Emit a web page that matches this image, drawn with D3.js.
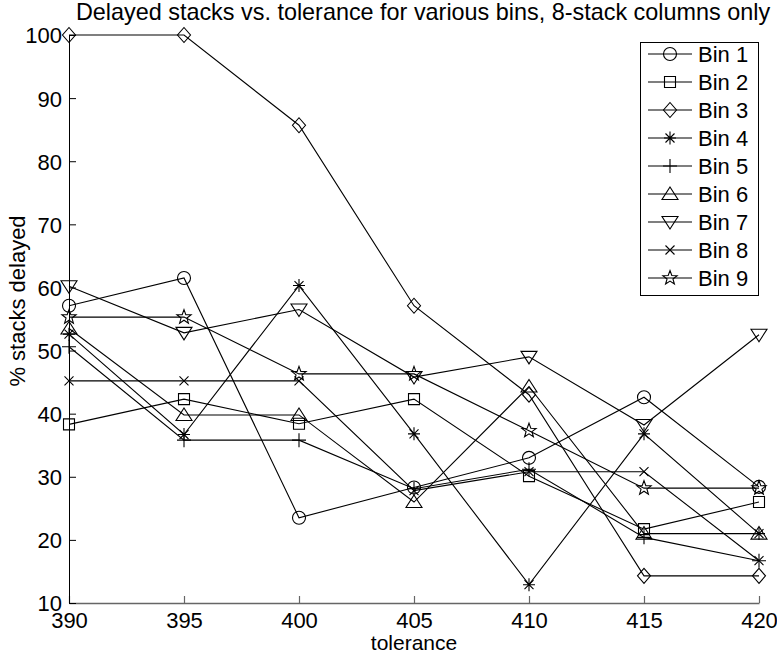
<!DOCTYPE html>
<html>
<head>
<meta charset="utf-8">
<script src="https://cdn.jsdelivr.net/npm/d3@7"></script>
<style>
  body { margin: 0; background: #fff; }
  svg { display: block; font-family: "Liberation Sans", Arial, Helvetica, sans-serif; }
  .tick text { font-size: 22px; fill: #000; }
</style>
</head>
<body>
<div class="chart"></div>
<script>
// Delayed stacks vs tolerance, one line per bin

var tolerance = [390, 395, 400, 405, 410, 415, 420];
var binNames = ["Bin 1", "Bin 2", "Bin 3", "Bin 4", "Bin 5", "Bin 6", "Bin 7", "Bin 8", "Bin 9"];

var bin1 = [57.1, 61.5, 23.5, 28.3, 33.0, 42.6, 28.4];
var bin2 = [38.3, 42.3, 38.4, 42.3, 30.1, 21.7, 26.0];
var bin3 = [100, 100, 85.7, 57.1, 43.0, 14.3, 14.3];
var bin4 = [52.6, 36.7, 60.3, 36.8, 12.9, 36.8, 21.0];
var bin5 = [50.6, 35.8, 35.8, 28.1, 31.2, 20.4, 16.7];
var bin6 = [53.5, 39.8, 39.8, 26.0, 44.3, 21.0, 21.0];
var bin7 = [60.2, 52.8, 56.5, 45.8, 49.0, 38.2, 52.5];
var bin8 = [45.2, 45.2, 45.2, 27.8, 30.8, 30.8, 16.7];
var bin9 = [55.3, 55.3, 46.3, 46.3, 37.3, 28.2, 28.2];

var yTicks = [10, 20, 30, 40, 50, 60, 70, 80, 90, 100];

var svgWidth = 777;
var svgHeight = 653;

var svg = d3.select(".chart")
  .append("svg")
  .attr("width", svgWidth)
  .attr("height", svgHeight);

var xScale = d3.scaleLinear().domain([390, 420]).range([69, 759]);
var yScale = d3.scaleLinear().domain([10, 100]).range([603, 35]);

// marker shapes, centred on 0,0
function markerPath(type) {
  var p = d3.path();
  if (type === "circle") {
    p.arc(0, 0, 6.5, 0, 2 * Math.PI);
  } else if (type === "square") {
    p.rect(-5.5, -5.5, 11, 11);
  } else if (type === "diamond") {
    p.moveTo(0, -7.5); p.lineTo(6.5, 0); p.lineTo(0, 7.5); p.lineTo(-6.5, 0); p.closePath();
  } else if (type === "asterisk") {
    p.moveTo(-6, 0); p.lineTo(6, 0);
    p.moveTo(0, -6.5); p.lineTo(0, 6.5);
    p.moveTo(-4.5, -4.5); p.lineTo(4.5, 4.5);
    p.moveTo(-4.5, 4.5); p.lineTo(4.5, -4.5);
  } else if (type === "plus") {
    p.moveTo(-7, 0); p.lineTo(7, 0);
    p.moveTo(0, -7); p.lineTo(0, 7);
  } else if (type === "triangleUp") {
    p.moveTo(0, -7); p.lineTo(8, 5.5); p.lineTo(-8, 5.5); p.closePath();
  } else if (type === "triangleDown") {
    p.moveTo(0, 7); p.lineTo(8, -5.5); p.lineTo(-8, -5.5); p.closePath();
  } else if (type === "cross") {
    p.moveTo(-4.5, -4.5); p.lineTo(4.5, 4.5);
    p.moveTo(-4.5, 4.5); p.lineTo(4.5, -4.5);
  } else if (type === "star") {
    for (var i = 0; i < 10; i++) {
      var r = i % 2 === 0 ? 7.5 : 3.1;
      var a = -Math.PI / 2 + i * Math.PI / 5;
      if (i === 0) p.moveTo(r * Math.cos(a), r * Math.sin(a));
      else p.lineTo(r * Math.cos(a), r * Math.sin(a));
    }
    p.closePath();
  }
  return p.toString();
}

var markers = ["circle", "square", "diamond", "asterisk", "plus", "triangleUp", "triangleDown", "cross", "star"];
var binValues = [bin1, bin2, bin3, bin4, bin5, bin6, bin7, bin8, bin9];

var series = binNames.map(function(name, i) {
  return {
    name: name,
    marker: markers[i],
    points: tolerance.map(function(t, j) { return { x: t, y: binValues[i][j] }; })
  };
});

// axes
var bottomAxis = d3.axisBottom(xScale)
  .tickValues(tolerance)
  .tickFormat(d3.format("d"))
  .tickSizeInner(-7)
  .tickSizeOuter(0)
  .tickPadding(14);

var xAxis = svg.append("g")
  .attr("transform", "translate(0, 603)")
  .call(bottomAxis);
xAxis.select(".domain").attr("stroke", "#666").attr("stroke-width", 1.5);
xAxis.selectAll(".tick line").attr("stroke", "#666").attr("stroke-width", 1.2);
xAxis.selectAll(".tick text").attr("dy", "0.71em").attr("y", 9);

var leftAxis = d3.axisLeft(yScale)
  .tickValues(yTicks)
  .tickFormat(d3.format("d"))
  .tickSizeInner(-7)
  .tickSizeOuter(0)
  .tickPadding(14);

var yAxis = svg.append("g")
  .attr("transform", "translate(69, 0)")
  .call(leftAxis);
yAxis.select(".domain").attr("stroke", "#000");
yAxis.selectAll(".tick line").attr("stroke", "#000");
yAxis.selectAll(".tick text").attr("dy", "0.36em").attr("x", -7);

// lines
var line = d3.line()
  .x(function(d) { return xScale(d.x); })
  .y(function(d) { return yScale(d.y); });

var seriesGroup = svg.append("g");

seriesGroup.selectAll("path.bin-line")
  .data(series)
  .enter()
  .append("path")
  .attr("class", "bin-line")
  .attr("d", function(d) { return line(d.points); })
  .attr("fill", "none")
  .attr("stroke", "#000")
  .attr("stroke-width", 1.1);

series.forEach(function(s) {
  seriesGroup.selectAll(null)
    .data(s.points)
    .enter()
    .append("path")
    .attr("transform", function(d) { return "translate(" + xScale(d.x) + "," + yScale(d.y) + ")"; })
    .attr("d", markerPath(s.marker))
    .attr("fill", "none")
    .attr("stroke", "#000")
    .attr("stroke-width", 1.1);
});

// title and axis labels
svg.append("text")
  .attr("x", 423)
  .attr("y", 20)
  .attr("text-anchor", "middle")
  .style("font-size", "23.4px")
  .text("Delayed stacks vs. tolerance for various bins, 8-stack columns only");

svg.append("text")
  .attr("x", 414)
  .attr("y", 650)
  .attr("text-anchor", "middle")
  .style("font-size", "21px")
  .text("tolerance");

svg.append("text")
  .attr("transform", "rotate(-90)")
  .attr("x", -301)
  .attr("y", 25)
  .attr("text-anchor", "middle")
  .style("font-size", "22px")
  .text("% stacks delayed");

// legend
var legendY = d3.scalePoint().domain(binNames).range([54, 278]);

var legend = svg.append("g");
legend.append("rect")
  .attr("x", 640.5)
  .attr("y", 42.5)
  .attr("width", 118)
  .attr("height", 253)
  .attr("fill", "#fff")
  .attr("stroke", "#000");

var entries = legend.selectAll("g.entry")
  .data(series)
  .enter()
  .append("g")
  .attr("class", "entry")
  .attr("transform", function(d) { return "translate(0," + legendY(d.name) + ")"; });

entries.append("line")
  .attr("x1", 648).attr("x2", 692)
  .attr("y1", 0).attr("y2", 0)
  .attr("stroke", "#000")
  .attr("stroke-width", 1.1);

entries.append("path")
  .attr("transform", "translate(670,0)")
  .attr("d", function(d) { return markerPath(d.marker); })
  .attr("fill", "none")
  .attr("stroke", "#000")
  .attr("stroke-width", 1.1);

entries.append("text")
  .attr("x", 698)
  .attr("y", 8)
  .style("font-size", "22px")
  .text(function(d) { return d.name; });
</script>
</body>
</html>
